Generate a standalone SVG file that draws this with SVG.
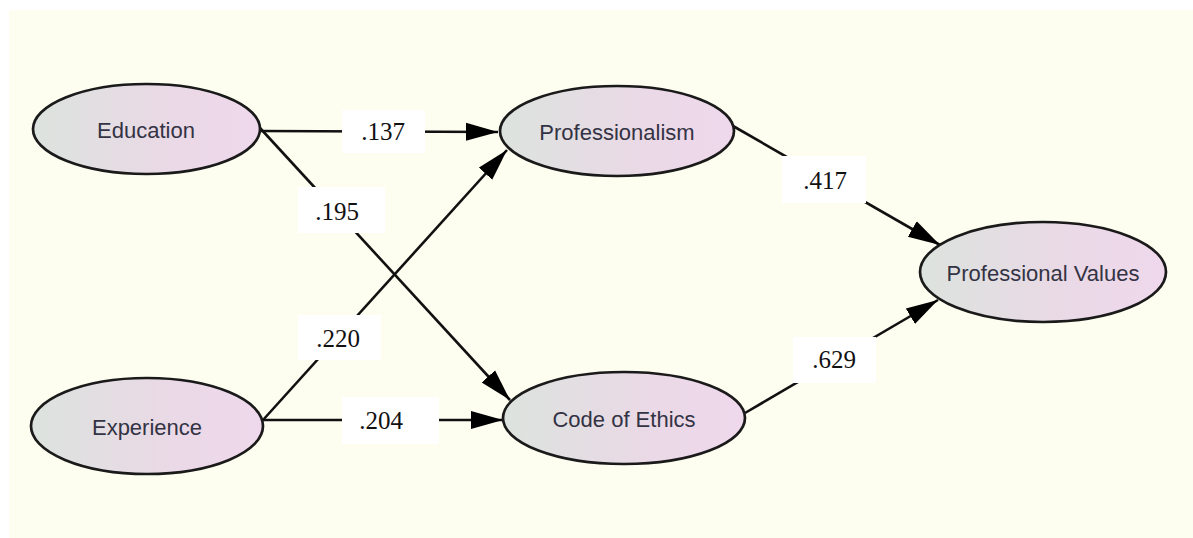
<svg xmlns="http://www.w3.org/2000/svg" width="1193" height="538" viewBox="0 0 1193 538">
<defs>
<linearGradient id="g" x1="0" y1="0" x2="1" y2="0">
<stop offset="0" stop-color="#DCE3DE"/>
<stop offset="0.6" stop-color="#EAD9E6"/>
<stop offset="1" stop-color="#EFD8EC"/>
</linearGradient>
<marker id="ah" markerUnits="userSpaceOnUse" markerWidth="34" markerHeight="20" refX="32" refY="10" orient="auto" viewBox="0 0 34 20">
<path d="M0,1 L32,10 L0,19 Z" fill="#000"/>
</marker>
<style>
.node ellipse{fill:url(#g);stroke:#1a1a1a;stroke-width:2.7}
.node text{font-family:"Liberation Sans",Arial,sans-serif;font-size:22px;fill:#333344;text-anchor:middle;dominant-baseline:central}
.conn line{stroke:#111;stroke-width:2.6;marker-end:url(#ah)}
.lbl rect{fill:#fff}
.lbl text{font-family:"Liberation Serif","Times New Roman",serif;font-size:25px;fill:#111;text-anchor:middle;dominant-baseline:central}
</style>
</defs>
<rect x="0" y="0" width="1193" height="538" fill="#fff"/>
<rect x="9" y="10" width="1184" height="528" fill="#FDFEF0"/>
<g id="connectors" class="conn">
<line x1="260" y1="131" x2="498" y2="132"/>
<line x1="260" y1="128" x2="510" y2="400"/>
<line x1="263" y1="420" x2="507" y2="150"/>
<line x1="263" y1="420" x2="503" y2="420"/>
<line x1="733" y1="126" x2="940" y2="245"/>
<line x1="745" y1="413" x2="938" y2="300"/>
</g>
<g id="labels" class="lbl">
<rect x="342" y="110" width="83" height="43"/><text x="383" y="131">.137</text>
<rect x="298" y="187" width="87" height="46"/><text x="337" y="211">.195</text>
<rect x="298" y="315" width="83" height="45"/><text x="338" y="338">.220</text>
<rect x="342" y="397" width="97" height="47"/><text x="381" y="420">.204</text>
<rect x="782" y="156" width="84" height="47"/><text x="825" y="180">.417</text>
<rect x="793" y="337" width="83" height="46"/><text x="834" y="359">.629</text>
</g>
<g id="education" class="node"><ellipse cx="146.5" cy="129" rx="113.5" ry="45"/><text x="146" y="130">Education</text></g>
<g id="experience" class="node"><ellipse cx="147" cy="426" rx="116" ry="48"/><text x="147" y="427">Experience</text></g>
<g id="professionalism" class="node"><ellipse cx="617" cy="131" rx="117" ry="45"/><text x="617" y="132">Professionalism</text></g>
<g id="code-of-ethics" class="node"><ellipse cx="624" cy="418" rx="121" ry="46"/><text x="624" y="419">Code of Ethics</text></g>
<g id="professional-values" class="node"><ellipse cx="1043" cy="272" rx="123" ry="50"/><text x="1043" y="273">Professional Values</text></g>
</svg>
